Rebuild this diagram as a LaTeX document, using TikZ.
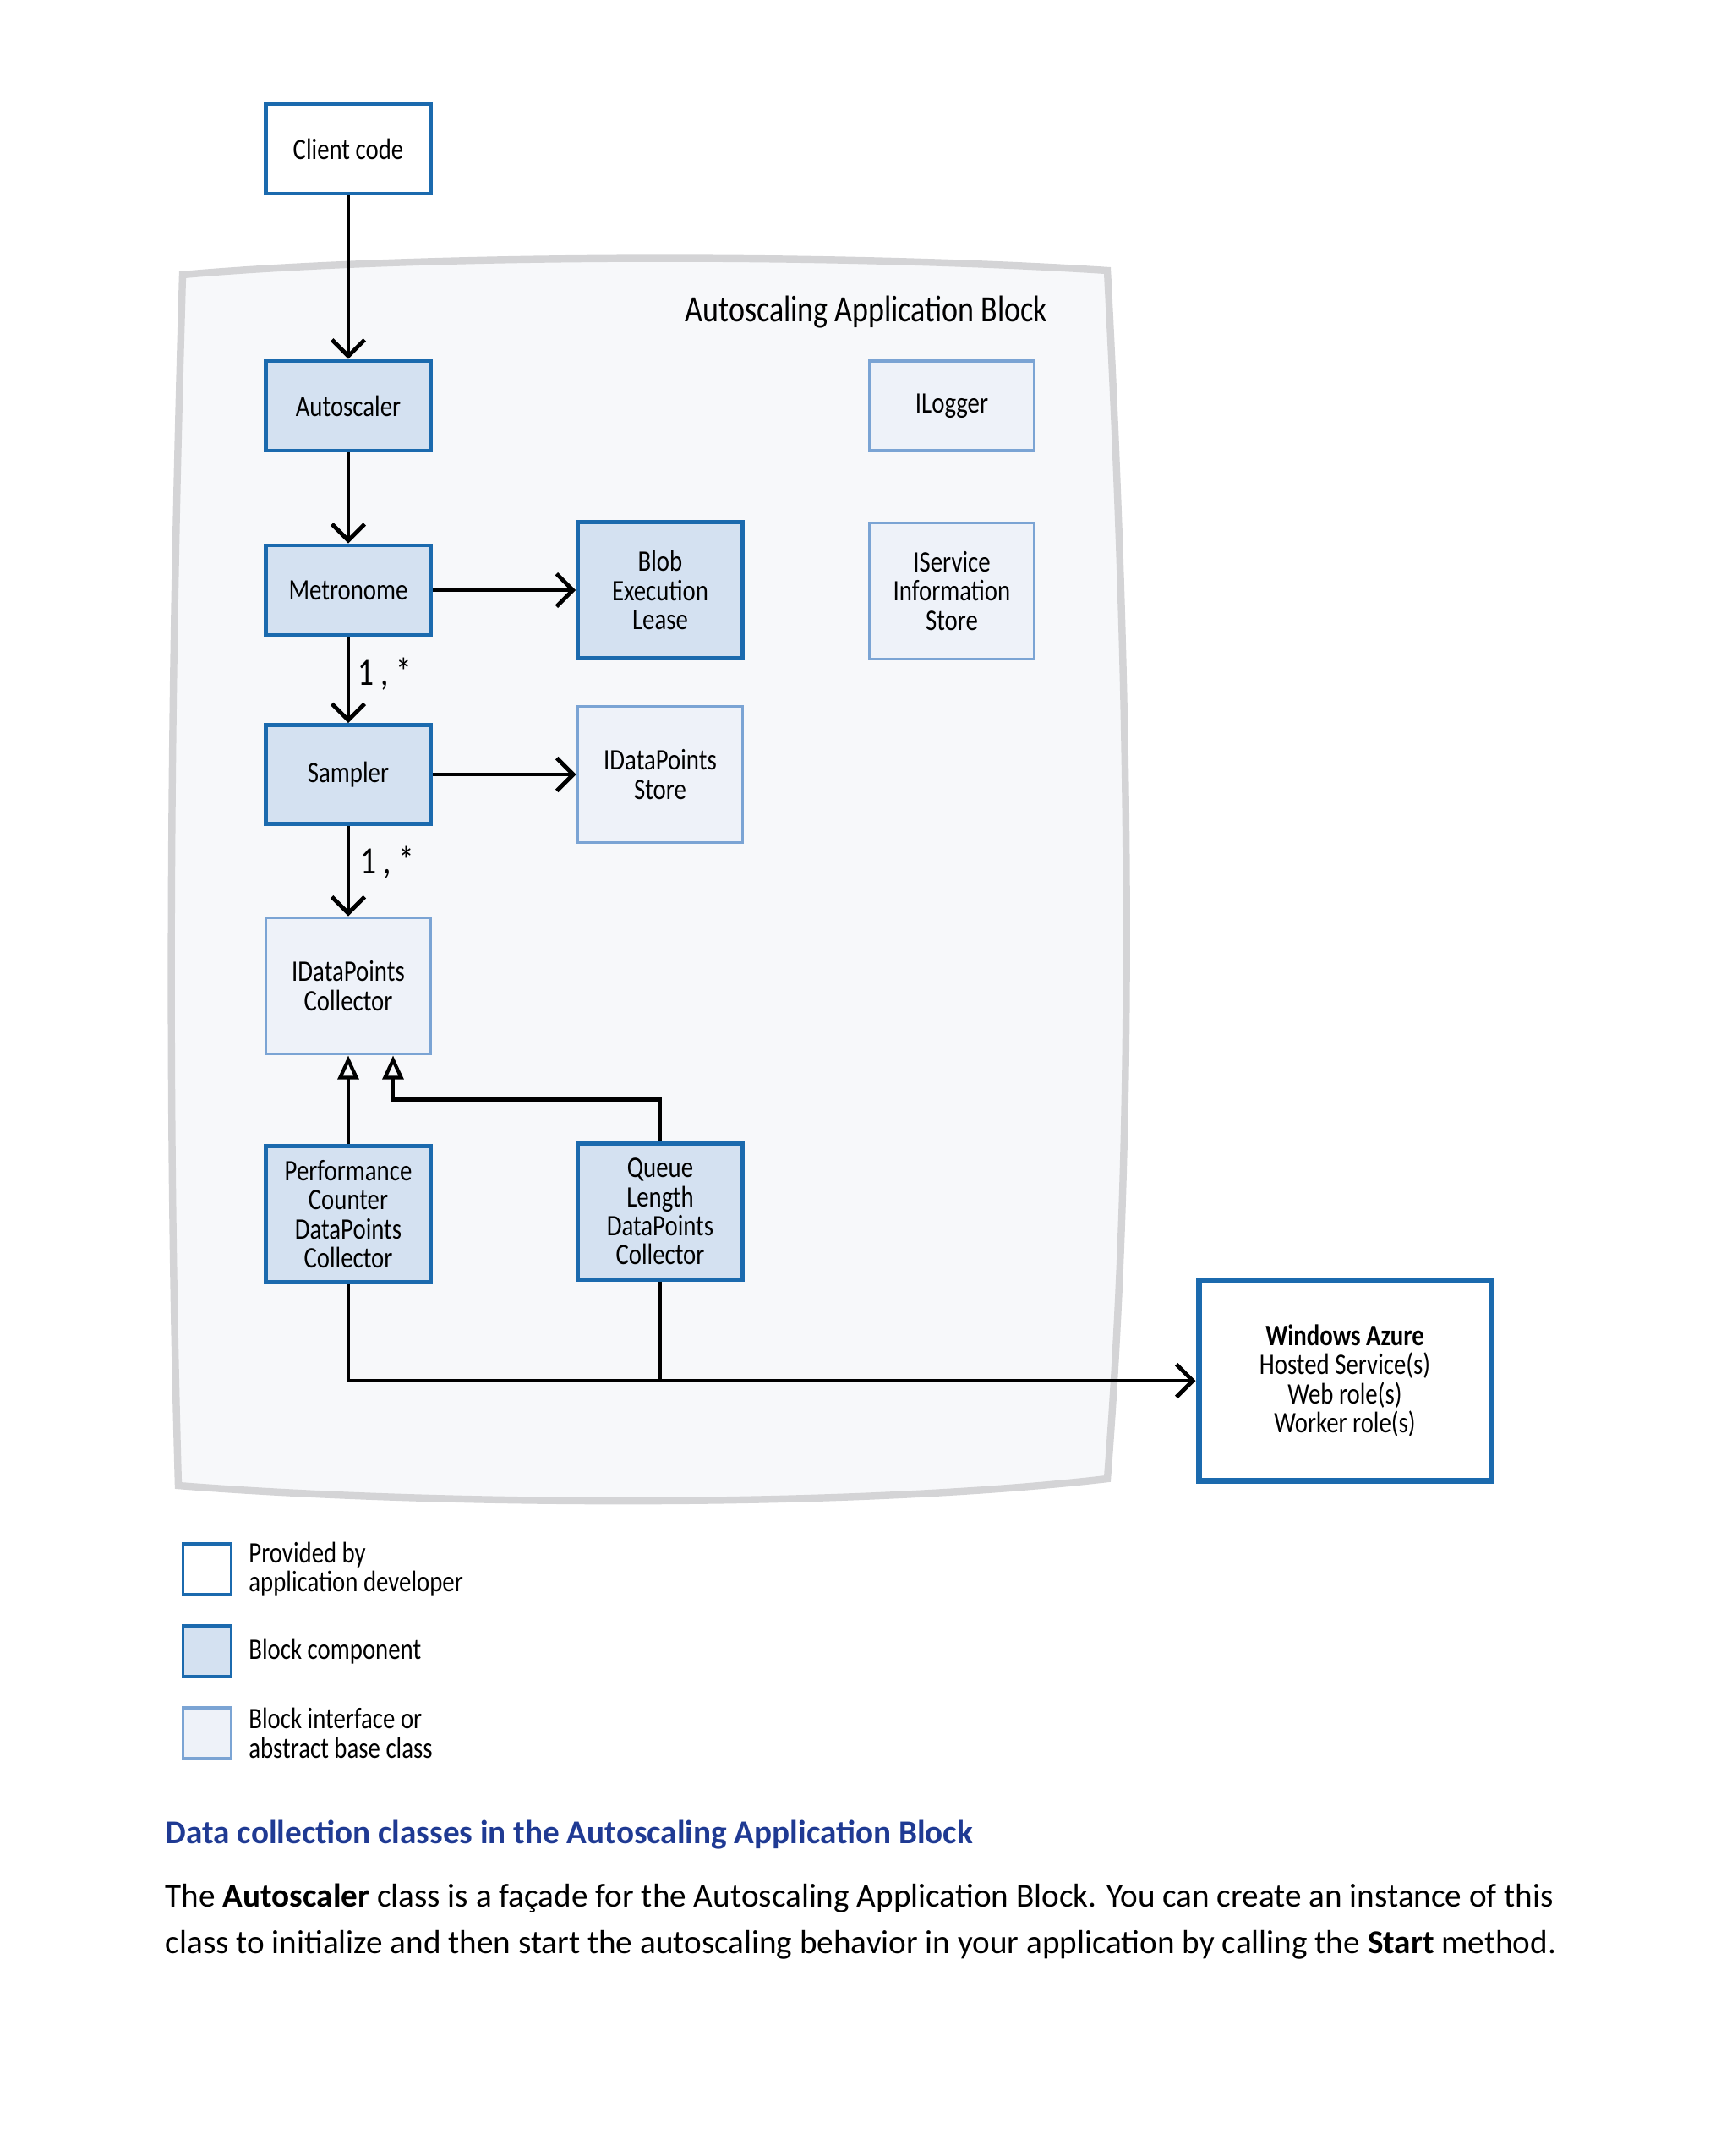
\documentclass[tikz,border=0pt]{standalone}
\usepackage{fontspec}
\setmainfont{Carlito}
\newfontfamily\sketchfont[FakeStretch=0.82]{Carlito}
\usepackage{tikz}
\usetikzlibrary{arrows.meta,calc,positioning}
\definecolor{BlockBlue}{HTML}{1B6AAE}
\definecolor{BlockFill}{HTML}{D4E1F1}
\definecolor{IfaceLine}{HTML}{7BA4D4}
\definecolor{IfaceFill}{HTML}{EEF2F9}
\definecolor{FrameGray}{HTML}{D4D4D6}
\definecolor{FrameFill}{HTML}{F7F8FA}
\definecolor{CaptionBlue}{HTML}{1F3A93}

\begin{document}
\begin{tikzpicture}[x=1cm,y=1cm,>={Straight Barb[length=5.5pt,width=11pt]},
    every node/.style={font=\sketchfont\fontsize{10}{9.8}\selectfont,align=center},
    comp/.style={draw=BlockBlue,fill=BlockFill,line width=1.3pt,minimum width=1.95cm,minimum height=1.06cm,inner sep=2pt},
    iface/.style={draw=IfaceLine,fill=IfaceFill,line width=1.1pt,minimum width=1.95cm,minimum height=1.06cm,inner sep=2pt},
    app/.style={draw=BlockBlue,fill=white,line width=1.3pt,minimum width=1.95cm,minimum height=1.06cm,inner sep=2pt},
    tall/.style={minimum height=1.61cm},
    link/.style={->,line width=1.4pt},
    gen/.style={-{Triangle[open,length=8pt,width=7pt]},line width=1.2pt}]
    \useasboundingbox (0,0) rectangle (20.48,-25.50);

    % block frame
    \draw[FrameGray,line width=2.4pt,fill=FrameFill]
      (2.16,-3.25) .. controls (5.0,-3.0) and (10.0,-3.0) .. (13.10,-3.20)
      .. controls (13.35,-8.0) and (13.45,-13.0) .. (13.10,-17.49)
      .. controls (10.0,-17.85) and (5.0,-17.80) .. (2.11,-17.57)
      .. controls (1.95,-12.0) and (2.05,-7.0) .. cycle;
    \node[font=\sketchfont\fontsize{12.5}{14}\selectfont] (title) at (10.25,-3.69) {Autoscaling Application Block};

    \node[app] (client) at (4.12,-1.76) {Client code};
    \node[comp] (autoscaler) at (4.12,-4.80) {Autoscaler};
    \node[iface] (ilogger) at (11.26,-4.80) {ILogger};
    \node[comp] (metronome) at (4.12,-6.98) {Metronome};
    \node[comp,tall] (blob) at (7.81,-6.98) {Blob\\Execution\\Lease};
    \node[iface,tall] (iservice) at (11.26,-6.99) {IService\\Information\\Store};
    \node[comp,minimum height=1.17cm] (sampler) at (4.12,-9.16) {Sampler};
    \node[iface,tall] (dpstore) at (7.81,-9.16) {IDataPoints\\Store};
    \node[iface,tall] (dpcollector) at (4.12,-11.66) {IDataPoints\\Collector};
    \node[comp,tall] (perfcollector) at (4.12,-14.36) {Performance\\Counter\\DataPoints\\Collector};
    \node[comp,tall] (queuecollector) at (7.81,-14.33) {Queue\\Length\\DataPoints\\Collector};
    \node[app,line width=2pt,minimum width=3.46cm,minimum height=2.37cm] (azure) at (15.91,-16.33)
      {\textbf{Windows Azure}\\Hosted Service(s)\\Web role(s)\\Worker role(s)};

    \draw[link] (client) -- (autoscaler);
    \draw[link] (autoscaler) -- (metronome);
    \draw[link] (metronome) -- (blob);
    \draw[link] (metronome) -- (sampler);
    \draw[link] (sampler) -- (dpstore);
    \draw[link] (sampler) -- (dpcollector);
    \node[font=\sketchfont\fontsize{13}{14}\selectfont] (mult-sampler) at (4.55,-7.97) {1 , *};
    \node[font=\sketchfont\fontsize{13}{14}\selectfont] (mult-collector) at (4.58,-10.20) {1 , *};

    % generalization
    \coordinate (gen-in) at ($(dpcollector.south)+(0.53,0)$);
    \draw[gen] (perfcollector) -- (dpcollector);
    \draw[gen] (queuecollector.north) |- ($(gen-in)+(0,-0.52)$) -- (gen-in);

    \draw[link] (perfcollector.south) |- (azure.west);
    \draw[line width=1.4pt] (queuecollector.south) -- (queuecollector.south |- azure.west);

    % legend
    \foreach \y/\kind/\txt in {-18.56/app/{Provided by\\application developer},
        -19.53/comp/{Block component},-20.50/iface/{Block interface or\\abstract base class}} {
      \node[\kind,line width=0.9pt,minimum width=0.57cm,minimum height=0.6cm] (key-\kind) at (2.45,\y) {};
      \node[anchor=west,align=left] (keytext-\kind) at (2.82,\y) {\txt};
    }

    \node[anchor=west,inner sep=0pt,font=\bfseries\fontsize{11.15}{13}\selectfont,text=CaptionBlue] (caption)
      at (1.95,-21.70) {Data collection classes in the Autoscaling Application Block};
    \node[anchor=west,inner sep=0pt,font=\fontsize{11.15}{13}\selectfont] (body1) at (1.95,-22.45)
      {The \textbf{Autoscaler} class is a façade for the Autoscaling Application Block. You can create an instance of this};
    \node[anchor=west,inner sep=0pt,font=\fontsize{11.15}{13}\selectfont] (body2) at (1.95,-23.00)
      {class to initialize and then start the autoscaling behavior in your application by calling the \textbf{Start} method.};
\end{tikzpicture}
\end{document}
